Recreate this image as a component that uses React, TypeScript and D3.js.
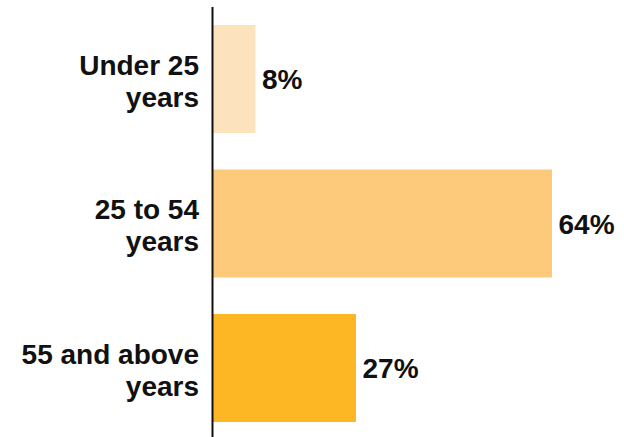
import React from "react";
import * as d3 from "d3";

const categories = ["Under 25 years", "25 to 54 years", "55 and above years"];
const categoryLines = [["Under 25", "years"], ["25 to 54", "years"], ["55 and above", "years"]];
const values = [8, 64, 27];
const valueLabels = ["8%", "64%", "27%"];
const colors = ["#fde3bd", "#fdc97a", "#fdb725"];

const W = 624;
const H = 437;
const axisX = 212.5;

export default function App() {
  const x = d3.scaleLinear().domain([0, 64]).range([213, 552]);
  const y = d3
    .scaleBand<string>()
    .domain(categories)
    .range([7, 440])
    .paddingInner(0.2526)
    .paddingOuter(0.1245);
  const fs = 28;
  const lineH = 32;
  const capH = fs * 0.716;
  return (
    <svg
      width={W}
      height={H}
      style={{ position: "absolute", left: 0, top: 0, background: "#fff" }}
      fontFamily="'Liberation Sans', Arial, sans-serif"
      fontWeight="bold"
    >
      {categories.map((c, i) => {
        const y0 = y(c)!;
        const cy = y0 + y.bandwidth() / 2;
        const firstBase = cy - lineH / 2 + capH / 2 + 1.5;
        return (
          <g key={c}>
            <rect x={x(0)} y={y0} width={x(values[i]) - x(0)} height={y.bandwidth()} fill={colors[i]} />
            <text x={x(values[i]) + 6.5} y={cy + capH / 2} fontSize={fs} fill="#111">
              {valueLabels[i]}
            </text>
            <text textAnchor="end" fontSize={fs} fill="#111">
              {categoryLines[i].map((ln, j) => (
                <tspan key={j} x={199} y={firstBase + j * lineH}>
                  {ln}
                </tspan>
              ))}
            </text>
          </g>
        );
      })}
      <line x1={axisX} x2={axisX} y1={7} y2={H} stroke="#111" strokeWidth={2} />
    </svg>
  );
}
